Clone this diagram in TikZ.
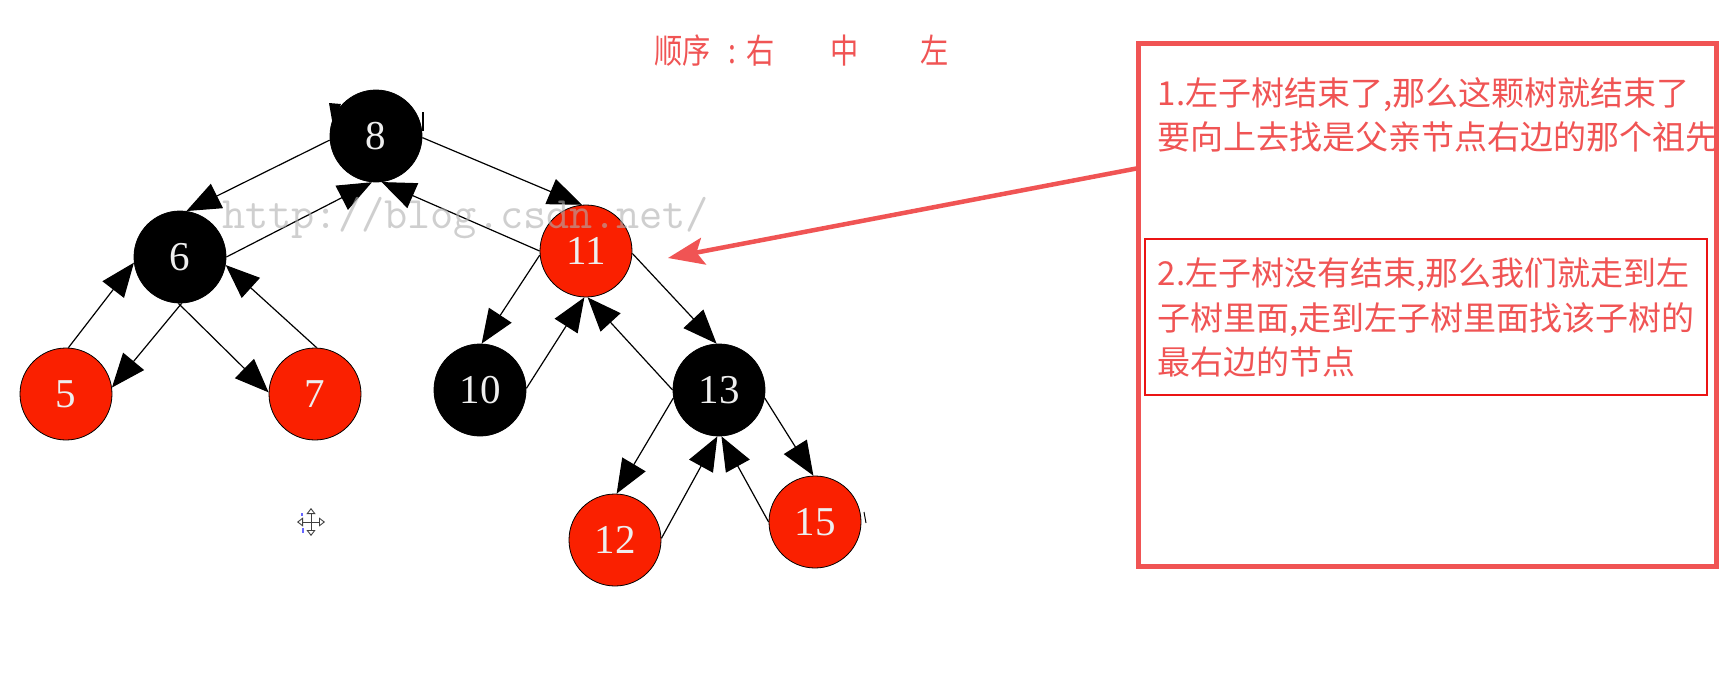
\documentclass[tikz,border=0pt]{standalone}
\usepackage{fontspec}
\newfontfamily\cjk{Noto Sans CJK SC}
\newfontfamily\numfont{Liberation Serif}
\usetikzlibrary{arrows.meta}
\definecolor{annot}{RGB}{240,84,84}
\definecolor{nodered}{RGB}{250,32,0}
\definecolor{boxred}{RGB}{235,20,20}
\definecolor{wmgray}{RGB}{175,175,175}
\definecolor{digit}{RGB}{238,238,238}
\begin{document}
\begin{tikzpicture}[x=1pt,y=-1pt,
  rbnode/.style={circle,minimum size=92pt,inner sep=0pt,draw=black,line width=0.8pt,text=digit,font=\numfont\fontsize{41}{44}\selectfont},
  blk/.style={rbnode,fill=black},
  rd/.style={rbnode,fill=nodered},
  tedge/.style={line width=1.2pt,-{Triangle[length=34pt,width=27pt]}},
  cjktext/.style={anchor=base west,inner sep=0pt,text=annot,font=\cjk\fontsize{33}{40}\selectfont},
]
\path[use as bounding box] (0,0) rectangle (1732,672);
\fill[white] (0,0) rectangle (1732,672);

% tree nodes
\node[blk] (n8)  at (376,136) {8};
\node[blk] (n6)  at (180,257) {6};
\node[rd]  (n11) at (586,251) {11};
\node[rd]  (n5)  at (66,394)  {5};
\node[rd]  (n7)  at (315,394) {7};
\node[blk] (n10) at (480,390) {10};
\node[blk] (n13) at (719,390) {13};
\node[rd]  (n12) at (615,540) {12};
\node[rd]  (n15) at (815,522) {15};

% edges
\draw[tedge] (n8.185) -- (n6.82);
\draw[tedge] (n6.0) -- (n8.265);
\draw[tedge] (n8.358) -- (n11.95);
\draw[tedge] (n11.180) -- (n8.277);
\draw[tedge] (n6.272) -- (n5.8);
\draw[tedge] (n5.87) -- (n6.187);
\draw[tedge] (n6.268) -- (n7.178);
\draw[tedge] (n7.88) -- (n6.350);
\draw[tedge] (n11.185) -- (n10.88);
\draw[tedge] (n10.2) -- (n11.268);
\draw[tedge] (n11.357) -- (n13.93);
\draw[tedge] (n13.180) -- (n11.272);
\draw[tedge] (n13.190) -- (n12.88);
\draw[tedge] (n12.2) -- (n13.268);
\draw[tedge] (n13.350) -- (n15.92);
\draw[tedge] (n15.180) -- (n13.273);

% small marks
\fill (329,103) -- (341,104) -- (333,126) -- cycle;
\draw[line width=2pt] (423,112) -- (423,131);
\draw[line width=1pt] (864,512) -- (866,523);

% cursor icon
\coordinate (cur) at (311,522);
\foreach \dx/\dy in {0/-14,0/14,-14/0,14/0}
  \draw[line width=0.9pt,black!75,-{Triangle[open,length=6pt,width=9pt]}] (cur) -- ++(\dx,\dy);
\draw[line width=1.2pt,blue!60] (302,513) -- (302,516) (303,528) -- (303,533);

% title
\node[anchor=base west,inner sep=0pt,text=annot,font=\cjk\fontsize{34}{40}\selectfont] (title) at (654,63)
  {\scalebox{0.83}[1]{顺序\hspace{21pt}:\hspace{13pt}右\hspace{67pt}中\hspace{74pt}左}};

% annotation texts
\node[cjktext] (t1a) at (1157.5,105.5) {1.左子树结束了,那么这颗树就结束了};
\node[cjktext] (t1b) at (1157.5,149) {要向上去找是父亲节点右边的那个祖先};
\node[cjktext] (t2a) at (1157.5,285.5) {2.左子树没有结束,那么我们就走到左};
\node[cjktext] (t2b) at (1157.5,330) {子树里面,走到左子树里面找该子树的};
\node[cjktext] (t2c) at (1157.5,374.5) {最右边的节点};

% boxes
\node[draw=boxred,line width=1.5pt,minimum width=562pt,minimum height=156pt,inner sep=0pt] (innerbox) at (1426,317) {};
\node[draw=annot,line width=4.5pt,minimum width=578pt,minimum height=523pt,inner sep=0pt] (bigbox) at (1427.5,305) {};

% pointer arrow
\coordinate (pstart) at (1139,168);
\coordinate (ptip) at (668,258);
\draw[annot,line width=4.5pt,-{Stealth[length=36pt,width=27pt,inset=7pt]}] (pstart) -- (ptip);

% watermark
\node[anchor=base west,inner sep=0pt,text=wmgray,opacity=0.6,font=\ttfamily\fontsize{45}{48}\selectfont] (wm) at (222,228) {http://blog.csdn.net/};
\end{tikzpicture}
\end{document}
